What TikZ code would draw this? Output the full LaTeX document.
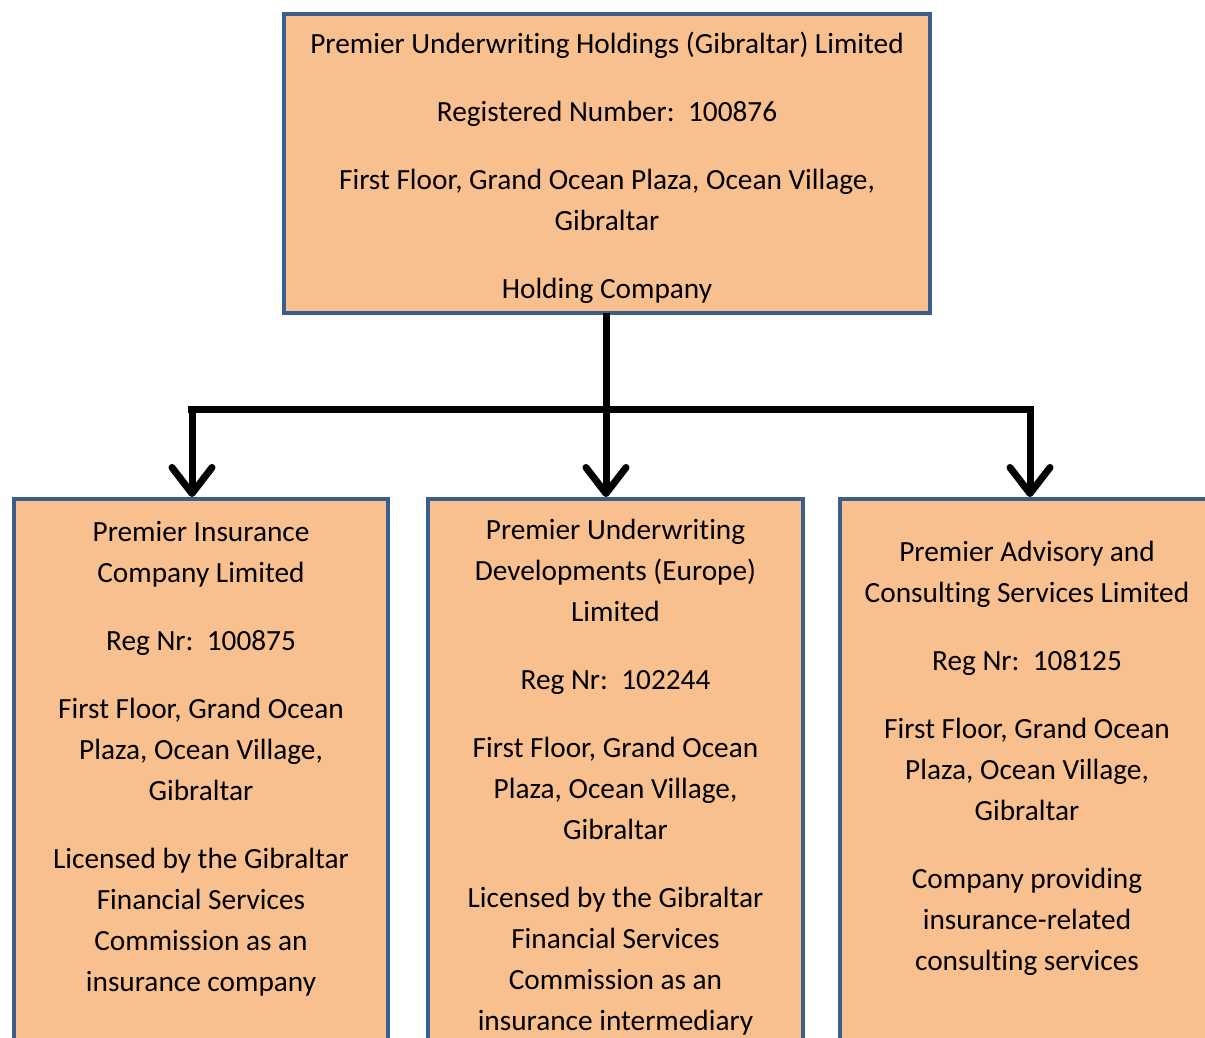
\documentclass[tikz,border=0pt]{standalone}
\usepackage{fontspec}
\setmainfont[Ligatures=NoCommon]{Carlito}
\usetikzlibrary{positioning, arrows.meta}

\definecolor{boxfill}{HTML}{F9C08F}
\definecolor{boxline}{HTML}{3B5E8C}

\begin{document}
\begin{tikzpicture}[
    x=1pt, y=-1pt,
    box/.style={draw=boxline, fill=boxfill, line width=3.5pt, rectangle,
        anchor=north west, inner sep=0pt, outer sep=0pt},
    info/.style={align=center, inner sep=0pt, anchor=north,
        font=\fontsize{29.3}{41}\selectfont},
    link/.style={line width=7pt, black},
    arrowlink/.style={link, -{Straight Barb[length=26pt, width=40pt, round]}}
]

    % fixes the size of the page
    \useasboundingbox (0,0) rectangle (1205,1038);

    % Holding company
    \node[box, minimum width=646pt, minimum height=299pt] (holding) at (284,14) {};
    \node[info, below=18pt of holding.north] (holdingtxt) {%
        Premier Underwriting Holdings (Gibraltar) Limited\\[27pt]
        Registered Number:~~100876\\[27pt]
        First Floor, Grand Ocean Plaza, Ocean Village,\\
        Gibraltar\\[27pt]
        Holding Company};

    % Subsidiaries (boxes run past the page edge)
    \node[box, minimum width=374pt, minimum height=600pt] (insurance) at (14,499) {};
    \node[box, minimum width=375pt, minimum height=600pt] (developments) at (428,499) {};
    \node[box, minimum width=374pt, minimum height=600pt] (advisory) at (840,499) {};

    \node[info, below=22pt of insurance.north] (insurancetxt) {%
        Premier Insurance\\
        Company Limited\\[27pt]
        Reg Nr:~~100875\\[27pt]
        First Floor, Grand Ocean\\
        Plaza, Ocean Village,\\
        Gibraltar\\[27pt]
        Licensed by the Gibraltar\\
        Financial Services\\
        Commission as an\\
        insurance company};

    \node[info, below=20pt of developments.north] (developmentstxt) {%
        Premier Underwriting\\
        Developments (Europe)\\
        Limited\\[27pt]
        Reg Nr:~~102244\\[27pt]
        First Floor, Grand Ocean\\
        Plaza, Ocean Village,\\
        Gibraltar\\[27pt]
        Licensed by the Gibraltar\\
        Financial Services\\
        Commission as an\\
        insurance intermediary};

    \node[info, below=42pt of advisory.north] (advisorytxt) {%
        Premier Advisory and\\
        Consulting Services Limited\\[27pt]
        Reg Nr:~~108125\\[27pt]
        First Floor, Grand Ocean\\
        Plaza, Ocean Village,\\
        Gibraltar\\[27pt]
        Company providing\\
        insurance-related\\
        consulting services};

    % Connectors
    \coordinate (forkL) at (192,409);
    \coordinate (forkR) at (1030,409);

    \draw[link] ([xshift=-4pt]forkL) -- ([xshift=4pt]forkR);
    \draw[arrowlink] ([xshift=-1pt]holding.south) -- ([xshift=-1pt,yshift=2pt]holding.south |- developments.north);
    \draw[arrowlink] (forkL) -- ([yshift=2pt]forkL |- insurance.north);
    \draw[arrowlink] (forkR) -- ([yshift=2pt]forkR |- advisory.north);

\end{tikzpicture}
\end{document}
